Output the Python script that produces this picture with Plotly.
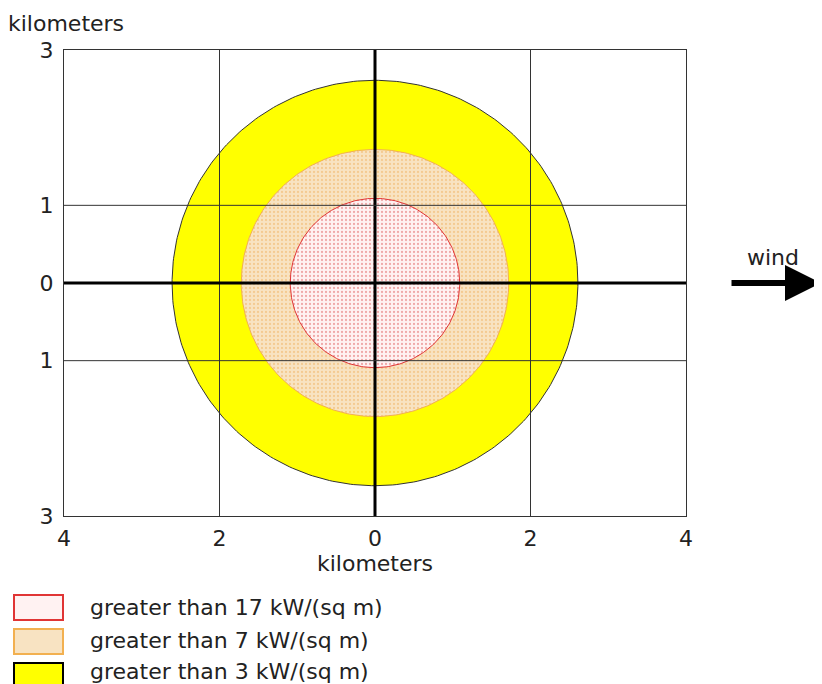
import numpy as np
import plotly.graph_objects as go

# ---- data ----
zone_labels = ["greater than 17 kW/(sq m)", "greater than 7 kW/(sq m)", "greater than 3 kW/(sq m)"]
zone_radius_km = [1.09, 1.72, 2.61]
zone_center_km = [0.0, 0.0]
x_tickvals = [-4, -2, 0, 2, 4]
x_ticktext = ["4", "2", "0", "2", "4"]
y_tickvals = [-3, -1, 0, 1, 3]
y_ticktext = ["3", "1", "0", "1", "3"]

# ---- styles ----
fill_bg = ["#FFF2F2", "#F8E3C2", "#FFFF00"]
fill_fg = ["#E06060", "#EFB060", "#FFFF00"]
edge = ["#E03535", "#F2B050", "#333333"]
FONT = "DejaVu Sans"
FS = 22

fig = go.Figure()
theta = np.linspace(0, 2 * np.pi, 361)
for i in [2, 1, 0]:
    r = zone_radius_km[i]
    xs = zone_center_km[0] + r * np.cos(theta)
    ys = zone_center_km[1] + r * np.sin(theta)
    kw = dict(
        x=xs, y=ys, mode="lines", fill="toself", name=zone_labels[i],
        line=dict(color=edge[i], width=1), fillcolor=fill_bg[i],
        hoverinfo="name", showlegend=False,
    )
    if i < 2:
        kw["fillpattern"] = dict(shape=".", bgcolor=fill_bg[i], fgcolor=fill_fg[i],
                                 size=4, solidity=0.25)
    fig.add_trace(go.Scatter(**kw))

shapes = []
for v in x_tickvals:
    if v in (-4, 4):
        continue
    shapes.append(dict(type="line", xref="x", yref="y", x0=v, x1=v, y0=-3, y1=3,
                       layer="above",
                       line=dict(color="black" if v == 0 else "#333333",
                                 width=3 if v == 0 else 1)))
for v in y_tickvals:
    if v in (-3, 3):
        continue
    shapes.append(dict(type="line", xref="x", yref="y", x0=-4, x1=4, y0=v, y1=v,
                       layer="above",
                       line=dict(color="black" if v == 0 else "#333333",
                                 width=3 if v == 0 else 1)))

# page offset (browser body margin) = 8 px
OFF = 8
FW, FH = 822 - OFF, 684 - OFF
L, T, W, H = 64 - OFF, 50 - OFF, 622, 466
def px(xs):  # screen px -> paper
    return (xs - OFF - L) / W
def py(ys):
    return (T + H - (ys - OFF)) / H

sw_top = [595, 629, 663]
for i in range(3):
    shapes.append(dict(type="rect", xref="paper", yref="paper",
                       x0=px(14), x1=px(63), y0=py(sw_top[i]), y1=py(sw_top[i] + 25),
                       fillcolor=fill_bg[i] if i < 2 else fill_fg[i],
                       line=dict(color=edge[i] if i < 2 else "#000000", width=2),
                       layer="above"))

annotations = []
text_y = [607, 640, 671]
for i in range(3):
    annotations.append(dict(xref="paper", yref="paper", x=px(88), y=py(text_y[i]),
                            xanchor="left", yanchor="middle", showarrow=False,
                            text=zone_labels[i], font=dict(family=FONT, size=FS, color="#222")))
annotations.append(dict(xref="paper", yref="paper", x=px(6), y=py(23),
                        xanchor="left", yanchor="middle", showarrow=False,
                        text="kilometers", font=dict(family=FONT, size=FS, color="#222")))
annotations.append(dict(xref="paper", yref="paper", x=px(773), y=py(257),
                        xanchor="center", yanchor="middle", showarrow=False,
                        text="wind", font=dict(family=FONT, size=FS, color="#222")))
annotations.append(dict(xref="paper", yref="y", x=px(832), y=0, ax=-102, ay=0,
                        axref="pixel", ayref="pixel", text="", showarrow=True,
                        arrowhead=2, arrowsize=1.2, arrowwidth=6, arrowcolor="black"))

fig.update_layout(
    width=FW, height=FH,
    margin=dict(l=L, r=FW - L - W, t=T, b=FH - T - H),
    plot_bgcolor="white", paper_bgcolor="white",
    font=dict(family=FONT, size=FS, color="#222"),
    shapes=shapes, annotations=annotations, showlegend=False,
)
fig.update_xaxes(range=[-4, 4], tickvals=x_tickvals, ticktext=x_ticktext,
                 showgrid=False, zeroline=False, showline=True, mirror=True,
                 linecolor="#333333", linewidth=1, ticks="outside", ticklen=3,
                 tickcolor="rgba(0,0,0,0)", layer="above traces",
                 title=dict(text="kilometers", font=dict(family=FONT, size=FS), standoff=2),
                 tickfont=dict(family=FONT, size=FS))
fig.update_yaxes(range=[-3, 3], tickvals=y_tickvals, ticktext=y_ticktext,
                 showgrid=False, zeroline=False, showline=True, mirror=True,
                 linecolor="#333333", linewidth=1, ticks="outside", ticklen=5,
                 tickcolor="rgba(0,0,0,0)", layer="above traces",
                 tickfont=dict(family=FONT, size=FS))

fig.write_html("out.html")
